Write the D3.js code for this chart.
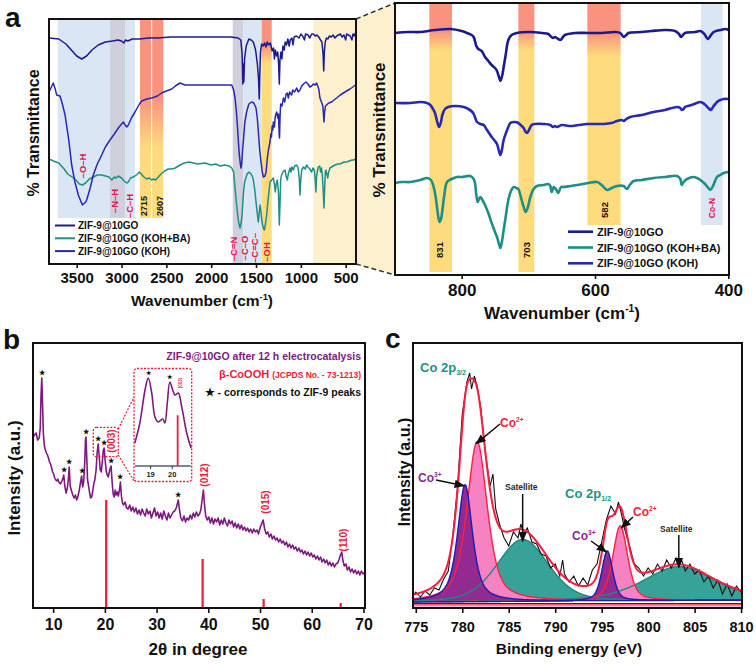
<!DOCTYPE html>
<html>
<head>
<meta charset="utf-8">
<script src="https://cdn.jsdelivr.net/npm/d3@7/dist/d3.min.js"></script>
<style>
html,body{margin:0;padding:0;background:#fff;}
svg{display:block;}
</style>
</head>
<body>
<script>
// ================= DATA =================
const irSeriesNames = ["ZIF-9@10GO", "ZIF-9@10GO (KOH+BA)", "ZIF-9@10GO (KOH)"];
const irWideTicks = [3500, 3000, 2500, 2000, 1500, 1000, 500];
const irZoomTicks = [800, 600, 400];
const xrdTicks = [10, 20, 30, 40, 50, 60, 70];
const xrdInsetTicks = [19, 20];
const xpsTicks = [775, 780, 785, 790, 795, 800, 805, 810];

// FTIR full range: [wavenumber, transmittance (offset a.u.)]
const irWideZIF = [[3809,226],[3700,225],[3620,220],[3560,214],[3500,208],[3444,205],[3390,208],[3330,214],[3260,219],[3180,222],[3100,223],[3040,224],[3000,223],[2975,221],[2955,224],[2930,223],[2880,225],[2800,225],[2700,226],[2600,226],[2450,227],[2300,227],[2100,227],[1900,227],[1780,227],[1700,226],[1670,224],[1655,210],[1648,180],[1642,200],[1636,182],[1628,205],[1610,218],[1580,225],[1555,224],[1530,222],[1505,214],[1485,200],[1472,185],[1464,165],[1458,190],[1450,212],[1438,220],[1420,218],[1405,221],[1390,217],[1375,222],[1360,219],[1340,221],[1320,213],[1305,216],[1295,205],[1285,214],[1270,208],[1258,212],[1248,200],[1240,180],[1233,204],[1222,212],[1212,205],[1200,218],[1185,214],[1175,222],[1160,219],[1145,225],[1130,218],[1118,224],[1100,226],[1088,219],[1075,227],[1050,228],[1020,226],[1000,230],[980,228],[960,224],[948,230],[920,229],[900,226],[880,230],[860,230],[840,228],[820,229],[800,227],[780,224],[765,222],[752,210],[745,193],[738,212],[728,222],[715,226],[700,225],[680,228],[660,227],[640,229],[620,226],[600,228],[580,229],[560,230],[540,227],[520,229],[500,224],[490,230],[470,229],[450,228],[430,224],[420,230],[405,228],[392,231],[385,229]];
const irWideKOH = [[3809,172],[3761,181],[3740,175],[3723,169],[3686,168],[3660,160],[3630,149],[3590,125],[3556,99],[3520,82],[3482,69],[3437,59],[3400,62],[3389,64],[3350,76],[3315,89],[3270,100],[3221,109],[3180,117],[3129,124],[3080,130],[3036,136],[3000,140],[2980,142],[2960,139],[2942,137],[2924,139],[2890,146],[2850,152],[2800,160],[2775,163],[2720,165],[2664,166],[2600,168],[2552,171],[2500,173],[2440,175],[2400,178],[2348,181],[2320,180],[2292,179],[2200,179],[2125,179],[2000,179],[1850,179],[1771,179],[1750,174],[1734,166],[1720,153],[1708,139],[1695,120],[1686,109],[1675,100],[1667,96],[1660,100],[1650,114],[1642,122],[1625,142],[1605,152],[1580,160],[1549,162],[1525,161],[1500,156],[1485,145],[1474,132],[1460,115],[1444,102],[1430,92],[1418,87],[1400,88],[1388,92],[1375,105],[1360,115],[1344,122],[1335,130],[1328,127],[1320,138],[1312,134],[1307,142],[1295,137],[1285,148],[1270,152],[1258,146],[1250,150],[1242,130],[1238,126],[1232,148],[1225,160],[1210,158],[1195,166],[1180,162],[1165,170],[1151,171],[1140,166],[1125,172],[1103,169],[1090,174],[1070,172],[1047,176],[1030,172],[1010,174],[990,178],[970,180],[943,182],[920,180],[900,177],[880,178],[860,180],[840,179],[824,181],[800,175],[787,166],[770,162],[755,158],[748,150],[742,142],[735,152],[725,158],[713,159],[690,161],[657,162],[630,164],[601,166],[560,169],[526,171],[490,173],[452,175],[420,177],[392,179]];
const irWideBA = [[3809,105],[3760,103],[3700,101],[3640,95],[3600,90],[3520,85],[3470,80],[3437,79],[3400,81],[3360,85],[3315,87],[3270,89],[3221,89],[3180,88],[3140,87],[3110,84],[3080,87],[3060,86],[3036,88],[3000,86],[2970,83],[2942,81],[2924,82],[2900,86],[2870,87],[2850,88],[2820,90],[2800,92],[2780,90],[2750,87],[2720,85],[2690,86],[2664,84],[2640,85],[2620,84],[2590,87],[2560,90],[2520,93],[2480,95],[2440,95],[2400,96],[2348,99],[2300,101],[2250,102],[2200,101],[2150,100],[2070,101],[2000,99],[1950,100],[1900,98],[1850,99],[1800,98],[1771,96],[1750,92],[1734,76],[1720,62],[1708,52],[1695,42],[1678,36],[1665,42],[1656,49],[1640,72],[1627,82],[1600,90],[1579,92],[1555,90],[1534,86],[1515,75],[1500,62],[1485,50],[1474,42],[1465,50],[1455,59],[1445,52],[1433,42],[1420,36],[1407,34],[1395,40],[1381,49],[1365,65],[1344,82],[1325,84],[1307,86],[1295,80],[1285,72],[1275,80],[1262,84],[1250,72],[1240,39],[1233,60],[1225,84],[1218,88],[1200,92],[1177,94],[1165,88],[1151,84],[1140,90],[1121,96],[1110,92],[1100,97],[1084,94],[1070,98],[1047,99],[1030,96],[1018,86],[1010,69],[1004,80],[991,94],[970,97],[950,95],[936,99],[920,97],[900,95],[880,92],[865,96],[850,94],[840,84],[832,72],[825,88],[806,97],[790,98],[780,92],[769,96],[760,88],[750,72],[742,56],[735,75],[727,92],[720,94],[710,90],[700,86],[690,92],[675,96],[657,97],[620,99],[590,100],[564,100],[540,101],[520,102],[489,102],[460,103],[430,104],[410,104],[392,105]];

// FTIR zoom 900-400
const irZoomZIF = [[900,242],[880,243],[862,243],[840,245],[817,246],[800,244],[792,242],[785,240],[782,238],[778,229],[775,226],[770,224],[765,218],[760,214],[755,210],[750,207],[747,204],[744,198],[742,194],[739,200],[737,208],[734,220],[730,235],[725,240],[717,242],[697,243],[680,242],[670,241],[667,239],[663,237],[660,238],[655,236],[652,235],[648,238],[645,240],[630,242],[610,242],[590,242],[570,243],[562,242],[557,238],[553,240],[550,242],[530,243],[515,244],[495,245],[480,244],[474,241],[471,238],[468,240],[465,242],[450,243],[442,244],[436,241],[431,236],[427,239],[422,243],[412,245],[404,246],[400,245]];
const irZoomKOH = [[900,172],[877,172],[862,173],[852,172],[847,170],[843,166],[840,162],[837,154],[834,148],[831,153],[829,160],[825,166],[820,168],[810,169],[797,168],[790,166],[784,163],[782,161],[779,156],[777,153],[772,151],[767,150],[762,145],[758,141],[755,138],[750,134],[747,131],[744,124],[742,120],[740,124],[737,135],[733,143],[730,148],[727,152],[720,153],[715,152],[710,149],[707,147],[704,143],[702,142],[699,145],[695,150],[690,151],[677,151],[667,150],[663,148],[660,149],[657,148],[650,150],[637,149],[625,150],[612,151],[600,151],[587,151],[575,152],[567,154],[560,155],[557,154],[553,156],[547,158],[530,160],[512,163],[495,165],[477,168],[472,167],[470,165],[467,166],[465,168],[455,170],[442,173],[436,171],[430,167],[426,165],[423,168],[417,173],[412,175],[407,176],[400,176]];
const irZoomBA = [[900,92],[890,93],[877,93],[862,95],[852,97],[846,95],[842,88],[839,78],[837,68],[835,58],[833,53],[831,56],[829,64],[826,80],[822,93],[815,96],[807,98],[800,98],[787,99],[782,96],[780,92],[778,80],[776,73],[774,76],[772,78],[768,74],[765,70],[760,62],[755,52],[750,43],[747,38],[744,31],[742,27],[740,32],[737,45],[734,58],[730,75],[726,84],[722,88],[718,87],[715,86],[712,80],[710,75],[707,68],[704,63],[701,67],[697,78],[692,86],[687,89],[677,90],[670,91],[667,89],[665,83],[662,88],[660,87],[657,84],[655,82],[651,88],[647,88],[637,89],[627,90],[610,92],[597,93],[590,90],[582,85],[575,87],[567,89],[557,89],[552,86],[548,90],[542,94],[530,95],[512,97],[495,98],[477,99],[472,96],[470,90],[467,93],[462,96],[452,98],[447,97],[440,94],[435,91],[430,87],[427,85],[423,89],[417,98],[412,100],[407,102],[400,103]];

// highlighted wavenumber ranges [from, to, kind, lower level]
const irWideBands = [[3712,2850,"blue",46],[3128,2960,"grey",46],[2794,2664,"gA",46],[2664,2534,"gA",46],[1760,1642,"grey",0],[1642,1437,"blue",0],[1437,1325,"gB",0],[862,385,"cream",0]];
const irZoomBands = [[848.5,814.5,"gC",3],[715,691,"gC",3],[611.5,561.5,"gD",50],[441,408.5,"blue",50]];
// assignment labels [text, wavenumber, level, colour kind]
const irWideLabels = [["–O–H",3430,98,"r"],["–N–H",3073,63,"r"],["–C–H",2906,58,"r"],["2715",2749,58,"k"],["2607",2571,58,"k"],["–C=N",1753,15,"r"],["–C–O",1631,16,"r"],["–C=C–",1511,16,"r"],["–OH",1381,12,"r"]];
const irZoomLabels = [["831",832.5,25,"k"],["703",702.5,25,"k"],["582",585,65,"k"],["Co-N",425,67,"r"]];

// XRD pattern [2θ, intensity]
const xrdPattern = [[6.1,171],[6.4,173],[6.7,175],[7.0,168],[7.3,170],[7.5,180],[7.65,212],[7.8,230],[7.92,210],[8.1,175],[8.3,162],[8.5,158],[8.7,155],[8.9,153],[9.1,150],[9.3,146],[9.5,144],[9.7,140],[9.9,136],[10.1,134],[10.3,130],[10.5,128],[10.7,127],[10.9,129],[11.1,126],[11.4,124],[11.7,127],[11.9,130],[12.05,133],[12.25,122],[12.5,115],[12.75,120],[12.95,130],[13.1,141],[13.3,122],[13.55,117],[13.8,113],[14.05,110],[14.3,113],[14.55,108],[14.8,112],[15.05,118],[15.3,126],[15.5,132],[15.7,121],[15.9,126],[16.1,145],[16.25,168],[16.35,171],[16.5,150],[16.65,128],[16.85,122],[17.05,115],[17.25,110],[17.45,111],[17.65,117],[17.85,124],[18.05,128],[18.3,138],[18.5,155],[18.7,164],[18.9,152],[19.1,138],[19.3,136],[19.5,146],[19.7,158],[19.85,160],[20.05,148],[20.25,137],[20.45,133],[20.65,131],[20.85,136],[21.05,140],[21.2,142],[21.4,126],[21.6,114],[21.8,111],[22.0,118],[22.2,113],[22.4,116],[22.6,112],[22.85,119],[23.0,126],[23.2,112],[23.4,105],[23.6,103],[23.9,106],[24.2,100],[24.5,99],[24.8,103],[25.1,97],[25.4,101],[25.7,96],[26.0,100],[26.3,94],[26.6,98],[26.9,93],[27.2,99],[27.5,95],[27.8,92],[28.1,99],[28.4,94],[28.7,97],[29.0,90],[29.3,95],[29.6,100],[29.9,92],[30.2,96],[30.5,90],[30.8,95],[31.1,89],[31.4,97],[31.7,92],[32.0,88],[32.3,95],[32.6,90],[32.9,93],[33.2,96],[33.5,97],[33.8,100],[34.0,104],[34.2,108],[34.4,99],[34.7,90],[35.0,87],[35.3,92],[35.6,86],[35.9,90],[36.2,88],[36.5,93],[36.8,89],[37.1,95],[37.4,91],[37.7,96],[38.0,92],[38.3,94],[38.55,98],[38.75,106],[38.9,112],[39.05,118],[39.25,104],[39.5,92],[39.8,88],[40.1,91],[40.4,85],[40.7,90],[41.0,84],[41.3,89],[41.6,86],[41.9,90],[42.2,83],[42.5,88],[42.8,84],[43.1,90],[43.4,85],[43.7,82],[44.0,88],[44.3,84],[44.6,87],[44.9,81],[45.2,85],[45.5,80],[45.8,84],[46.1,79],[46.4,83],[46.7,78],[47.0,81],[47.3,77],[47.6,80],[47.9,76],[48.2,79],[48.5,75],[48.8,79],[49.1,76],[49.4,78],[49.7,74],[50.0,80],[50.3,84],[50.6,88],[50.9,79],[51.2,74],[51.5,76],[51.8,71],[52.1,74],[52.4,69],[52.7,72],[53.0,68],[53.3,70],[53.6,66],[53.9,69],[54.2,65],[54.5,67],[54.8,63],[55.1,66],[55.4,61],[55.7,64],[56.0,60],[56.3,63],[56.6,59],[56.9,61],[57.2,57],[57.5,60],[57.8,56],[58.1,58],[58.4,54],[58.7,57],[59.0,53],[59.3,56],[59.6,52],[59.9,55],[60.2,51],[60.5,53],[60.8,49],[61.1,52],[61.4,48],[61.7,51],[62.0,46],[62.3,49],[62.6,45],[62.9,48],[63.2,43],[63.5,46],[63.8,42],[64.1,45],[64.4,41],[64.7,44],[65.0,45],[65.25,48],[65.5,52],[65.8,56],[66.05,47],[66.3,42],[66.6,44],[66.9,38],[67.2,41],[67.5,36],[67.8,39],[68.1,35],[68.4,38],[68.7,34],[69.0,37],[69.3,33],[69.6,37],[69.9,34],[70.3,36]];
// enlarged 18.2-20.9° region shown in the inset
const xrdInsetPattern = [[18.27,23],[18.5,43],[18.74,76],[18.89,88],[19.05,73],[19.2,49],[19.35,44],[19.56,47],[19.66,43],[19.77,63],[19.89,84],[20.02,76],[20.13,71],[20.28,73],[20.44,59],[20.67,33],[20.87,18]];
const xrdStarAngles = [7.8, 12.05, 13.1, 15.5, 16.35, 18.7, 19.85, 21.2, 23.0, 34.2];
const xrdInsetStarAngles = [18.89, 19.89];
// β-CoOOH reference (JCPDS 73-1213)
const refHkl = ["(003)", "(012)", "(015)", "(110)"];
const refAngle = [20.25, 38.9, 50.7, 65.6];
const refIntensity = [108, 49, 9, 5];
const refLabelAngle = [21.3, 39.35, 51.0, 66.1];
const refLabelLevel = [167, 133, 106, 68];

// XPS Co 2p raw spectrum [binding energy (eV), counts]
const xpsRaw = [[774.7,8],[775.0,12],[775.5,7],[776.0,13],[776.5,9],[777.0,16],[777.5,14],[778.0,25],[778.5,33],[779.0,70],[779.5,118],[780.0,190],[780.5,222],[780.8,231],[781.0,215],[781.3,228],[781.6,218],[782.0,196],[782.5,150],[783.0,118],[783.3,130],[783.6,95],[784.0,80],[784.5,66],[785.0,58],[785.5,72],[786.0,66],[786.3,80],[786.6,70],[787.0,76],[787.5,62],[788.0,60],[788.5,50],[789.0,48],[789.5,36],[790.0,40],[790.5,28],[790.8,44],[791.0,30],[791.5,22],[792.0,28],[792.5,18],[793.0,26],[793.5,19],[794.0,34],[794.5,40],[795.0,62],[795.5,84],[796.0,98],[796.5,90],[796.8,102],[797.0,95],[797.5,74],[798.0,58],[798.5,40],[799.0,36],[799.5,28],[800.0,36],[800.5,30],[801.0,40],[801.5,33],[802.0,44],[802.5,36],[803.0,46],[803.3,38],[803.6,44],[804.0,33],[804.5,40],[805.0,30],[805.5,34],[806.0,22],[806.5,28],[807.0,16],[807.5,24],[808.0,10],[808.5,20],[809.0,8],[809.5,18],[810.0,12]];
// fitted components
const xpsCompName = ["Co3+", "Co2+", "Satellite", "Co3+", "Co2+", "Satellite"];
const xpsCenter = [780.3, 781.6, 786.5, 795.6, 797.0, 803.3];
const xpsHeight = [117, 160, 62, 50, 75, 34];
const xpsFwhm = [1.9, 2.6, 6.5, 1.4, 1.9, 9.0];
const xpsLorentz = [0.7, 0.6, 0.3, 0.5, 0.5, 0.5];
const xpsBackground = [2, 3.8]; // at 774.7 and 810.1 eV

// ================= DRAWING =================
const FONT = "'Liberation Sans', Arial, Helvetica, sans-serif";
const COL = {red:"#f9937f", yel:"#fedb7c", blue:"#dbe6f4", grey:"#cfd0db", cream:"#fcf0cf",
  navy:"#1b1b8f", koh:"#2828b2", teal:"#1e8f85", purple:"#7d1a80", ref:"#f0193c", lab:"#e3144d"};
const irColors = [COL.navy, COL.teal, COL.koh];

const svg = d3.select("body").append("svg").attr("width",756).attr("height",664)
  .attr("font-family",FONT).attr("font-weight","bold");
svg.append("rect").attr("width",756).attr("height",664).attr("fill","#fff");
const defs = svg.append("defs");

function gradient(id,o1,o2){
  const g = defs.append("linearGradient").attr("id",id).attr("x1",0).attr("y1",0).attr("x2",0).attr("y2",1);
  [[0,COL.red],[o1,COL.red],[o2,COL.yel],[1,COL.yel]].forEach(s=>g.append("stop").attr("offset",s[0]).attr("stop-color",s[1]));
}
gradient("gA",0.40,0.65); gradient("gB",0.11,0.18); gradient("gC",0.10,0.175); gradient("gD",0.135,0.235);
function clip(id,x0,y0,x1,y1){ defs.append("clipPath").attr("id",id).append("rect").attr("x",x0).attr("y",y0).attr("width",x1-x0).attr("height",y1-y0); }
const mk = defs.append("marker").attr("id","arr").attr("viewBox","0 0 10 10").attr("refX",9).attr("refY",5)
  .attr("markerWidth",7).attr("markerHeight",7).attr("orient","auto");
mk.append("path").attr("d","M0,1 L10,5 L0,9 z").attr("fill","#111");

function bottomAxis(scale,ticks,y,size,pad,fs){
  const g = svg.append("g").attr("transform",`translate(0,${y})`)
    .call(d3.axisBottom(scale).tickValues(ticks).tickSize(size).tickPadding(pad).tickSizeOuter(0).tickFormat(d3.format("d")));
  g.select(".domain").remove();
  g.attr("font-family",FONT).attr("font-size",fs).attr("font-weight","bold");
  g.selectAll("text").attr("fill","#111");
  g.selectAll("line").attr("stroke","#111").attr("stroke-width",1.6);
  return g;
}
function frame(x0,y0,x1,y1){
  svg.append("rect").attr("x",x0).attr("y",y0).attr("width",x1-x0).attr("height",y1-y0)
    .attr("fill","none").attr("stroke","#111").attr("stroke-width",2);
}
function text(x,y,s,fs,fill,anchor){
  return svg.append("text").attr("x",x).attr("y",y).attr("font-size",fs).attr("fill",fill||"#111")
    .attr("text-anchor",anchor||"start").text(s);
}
function vtext(x,y,s,fs,fill){
  return svg.append("text").attr("transform",`translate(${x},${y}) rotate(-90)`).attr("font-size",fs)
    .attr("fill",fill||"#111").attr("text-anchor","middle").attr("dy","0.35em").text(s);
}
function titleWithSup(x,y,main,sup,tail,fs){
  const t = svg.append("text").attr("x",x).attr("y",y).attr("font-size",fs).attr("text-anchor","middle").attr("fill","#111");
  t.append("tspan").text(main);
  t.append("tspan").attr("dy",-fs*0.4).attr("font-size",fs*0.6).text(sup);
  t.append("tspan").attr("dy",fs*0.4).text(tail);
}

// ---------- panel a (left, full range) ----------
const aL = {x0:49, y0:19, x1:356, y1:264};
const xL = d3.scaleLinear().domain([3809,385]).range([aL.x0,aL.x1]);
const yL = d3.scaleLinear().domain([0,245]).range([aL.y1,aL.y0]);
// ---------- panel a (right, zoom) ----------
const aR = {x0:395, y0:3, x1:729, y1:275};
const xR = d3.scaleLinear().domain([900,399]).range([aR.x0,aR.x1]);
const yR = d3.scaleLinear().domain([0,272]).range([aR.y1,aR.y0]);

// connecting zoom region
svg.append("path").attr("d",`M${aL.x1},${aL.y0} L${aR.x0},${aR.y0} L${aR.x0},${aR.y1} L${aL.x1},${aL.y1} Z`).attr("fill",COL.cream);
svg.append("line").attr("x1",aL.x1).attr("y1",aL.y0).attr("x2",aR.x0).attr("y2",aR.y0).attr("stroke","#333").attr("stroke-width",1.5).attr("stroke-dasharray","5,3");
svg.append("line").attr("x1",aL.x1).attr("y1",aL.y1).attr("x2",aR.x0).attr("y2",aR.y1).attr("stroke","#333").attr("stroke-width",1.5).attr("stroke-dasharray","5,3");

function fillFor(kind){ return kind==="blue"?COL.blue:kind==="grey"?COL.grey:kind==="cream"?COL.cream:`url(#${kind})`; }

clip("clipAL",aL.x0,aL.y0,aL.x1,aL.y1);
const gAL = svg.append("g").attr("clip-path","url(#clipAL)");
gAL.selectAll("rect.band").data(irWideBands).join("rect")
  .attr("x",d=>xL(d[0])).attr("width",d=>xL(d[1])-xL(d[0]))
  .attr("y",aL.y0).attr("height",d=>yL(d[3])-aL.y0).attr("fill",d=>fillFor(d[2]));
gAL.append("line").attr("x1",xL(2664)).attr("x2",xL(2664)).attr("y1",aL.y0).attr("y2",yL(46)).attr("stroke","#fff").attr("stroke-width",1);
const lineL = d3.line().x(d=>xL(d[0])).y(d=>yL(d[1]));
[irWideZIF, irWideBA, irWideKOH].forEach((s,i)=>{
  gAL.append("path").attr("d",lineL(s)).attr("fill","none").attr("stroke",irColors[i]).attr("stroke-width",1.5).attr("stroke-linejoin","round");
});
irWideLabels.forEach(l=>vtext(xL(l[1]),yL(l[2]),l[0],l[3]==="r"?9.5:9,l[3]==="r"?COL.lab:"#111"));
frame(aL.x0,aL.y0,aL.x1,aL.y1);
bottomAxis(xL,irWideTicks,aL.y1,4,4,15);
irSeriesNames.forEach((n,i)=>{
  const y = 225.5 + i*12.8;
  svg.append("line").attr("x1",55).attr("x2",75).attr("y1",y).attr("y2",y).attr("stroke",irColors[i]).attr("stroke-width",2);
  text(78,y+3.5,n,10,"#111");
});
vtext(33,133,"% Transmittance",16);
titleWithSup(202,306,"Wavenumber (cm","-1",")",15.5);

clip("clipAR",aR.x0,aR.y0,aR.x1,aR.y1);
const gAR = svg.append("g").attr("clip-path","url(#clipAR)");
gAR.selectAll("rect.band").data(irZoomBands).join("rect")
  .attr("x",d=>xR(d[0])).attr("width",d=>xR(d[1])-xR(d[0]))
  .attr("y",aR.y0+1).attr("height",d=>yR(d[3])-aR.y0-1).attr("fill",d=>fillFor(d[2]));
const lineR = d3.line().x(d=>xR(d[0])).y(d=>yR(d[1])).curve(d3.curveCatmullRom.alpha(0.5));
[irZoomZIF, irZoomBA, irZoomKOH].forEach((s,i)=>{
  gAR.append("path").attr("d",lineR(s)).attr("fill","none").attr("stroke",irColors[i]).attr("stroke-width",2.6).attr("stroke-linejoin","round");
});
irZoomLabels.forEach(l=>vtext(xR(l[1]),yR(l[2]),l[0],l[3]==="r"?8.5:9.5,l[3]==="r"?COL.lab:"#111"));
frame(aR.x0,aR.y0,aR.x1,aR.y1);
bottomAxis(xR,irZoomTicks,aR.y1,4,5,17);
irSeriesNames.forEach((n,i)=>{
  const y = 231.7 + i*15.8;
  svg.append("line").attr("x1",568).attr("x2",593).attr("y1",y).attr("y2",y).attr("stroke",irColors[i]).attr("stroke-width",2.6);
  text(597,y+4,n,11,"#111");
});
vtext(379,130,"% Transmittance",17);
titleWithSup(562,319,"Wavenumber (cm","-1",")",17);
text(5,27,"a",28,"#111");

// ---------- panel b (XRD) ----------
const pB = {x0:33, y0:343, x1:365, y1:608};
const xB = d3.scaleLinear().domain([6.1,70.3]).range([pB.x0,pB.x1]);
const yB = d3.scaleLinear().domain([0,265]).range([pB.y1,pB.y0]);
clip("clipB",pB.x0,pB.y0,pB.x1,pB.y1);
const gB = svg.append("g").attr("clip-path","url(#clipB)");
gB.selectAll("line.ref").data(refAngle).join("line")
  .attr("x1",d=>xB(d)).attr("x2",d=>xB(d)).attr("y1",yB(0)).attr("y2",(d,i)=>yB(refIntensity[i]))
  .attr("stroke",COL.ref).attr("stroke-width",2.2);
gB.append("path").attr("d",d3.line().x(d=>xB(d[0])).y(d=>yB(d[1]))(xrdPattern))
  .attr("fill","none").attr("stroke",COL.purple).attr("stroke-width",1.6).attr("stroke-linejoin","round");
function peakAt(pat,a){ let best=null; pat.forEach(p=>{ if(Math.abs(p[0]-a)<=0.16 && (!best||p[1]>best[1])) best=p; }); return best; }
xrdStarAngles.forEach(a=>{
  const p = peakAt(xrdPattern,a);
  svg.append("text").attr("x",xB(p[0])).attr("y",yB(p[1])-5.5).attr("dy","0.35em").attr("text-anchor","middle").attr("font-size",7).attr("fill","#111").text("★");
});
refHkl.forEach((h,i)=>vtext(xB(refLabelAngle[i]),yB(refLabelLevel[i]),h,10,COL.ref));
svg.append("rect").attr("x",93.3).attr("y",427.3).attr("width",25).attr("height",29.4).attr("rx",3)
  .attr("fill","none").attr("stroke",COL.ref).attr("stroke-width",1.3).attr("stroke-dasharray","2,1.5");
svg.append("line").attr("x1",118.3).attr("y1",429).attr("x2",134).attr("y2",397).attr("stroke",COL.ref).attr("stroke-width",1.2).attr("stroke-dasharray","2,1.5");
svg.append("line").attr("x1",118.3).attr("y1",455).attr("x2",134).attr("y2",481).attr("stroke",COL.ref).attr("stroke-width",1.2).attr("stroke-dasharray","2,1.5");
const inset = {x0:134, y0:368.5, x1:191.7, y1:481.5};
svg.append("rect").attr("x",inset.x0).attr("y",inset.y0).attr("width",inset.x1-inset.x0).attr("height",inset.y1-inset.y0).attr("rx",3)
  .attr("fill","#fff").attr("stroke",COL.ref).attr("stroke-width",1.3).attr("stroke-dasharray","2,1.5");
const xI = d3.scaleLinear().domain([18.23,20.9]).range([inset.x0,inset.x1]);
const yI = d3.scaleLinear().domain([0,97]).range([466,369]);
svg.append("line").attr("x1",xI(refAngle[0])).attr("x2",xI(refAngle[0])).attr("y1",yI(0)).attr("y2",yI(refIntensity[0]*0.47)).attr("stroke",COL.ref).attr("stroke-width",1.8);
svg.append("path").attr("d",d3.line().x(d=>xI(d[0])).y(d=>yI(d[1])).curve(d3.curveCatmullRom.alpha(0.5))(xrdInsetPattern))
  .attr("fill","none").attr("stroke",COL.purple).attr("stroke-width",1.6);
svg.append("line").attr("x1",inset.x0+1).attr("x2",inset.x1-1).attr("y1",466).attr("y2",466).attr("stroke","#4d5f78").attr("stroke-width",1.5);
xrdInsetTicks.forEach(t=>{
  svg.append("line").attr("x1",xI(t)).attr("x2",xI(t)).attr("y1",466).attr("y2",469).attr("stroke","#333").attr("stroke-width",1);
  text(xI(t),476.5,String(t),7.5,"#222","middle");
});
xrdInsetStarAngles.forEach(a=>{
  const p = peakAt(xrdInsetPattern,a);
  svg.append("text").attr("x",xI(p[0])).attr("y",yI(p[1])-5).attr("dy","0.35em").attr("text-anchor","middle").attr("font-size",6).attr("fill","#111").text("★");
});
vtext(xI(refAngle[0])+3,383,refHkl[0],4.5,COL.ref);
frame(pB.x0,pB.y0,pB.x1,pB.y1);
bottomAxis(xB,xrdTicks,pB.y1,5,6,16);
text(361,360,"ZIF-9@10GO after 12 h electrocatalysis",10.5,COL.purple,"end");
const t2 = svg.append("text").attr("x",361).attr("y",378).attr("text-anchor","end").attr("fill",COL.ref);
t2.append("tspan").attr("font-size",11).text("β-CoOOH ");
t2.append("tspan").attr("font-size",8.5).text("(JCPDS No. - 73-1213)");
text(361,396,"★ - corresponds to ZIF-9 peaks",10.5,"#111","end");
vtext(14,478,"Intensity (a.u.)",17);
text(198,655,"2θ in degree",17,"#111","middle");
text(3,349,"b",28,"#111");

// ---------- panel c (XPS) ----------
const pC = {x0:413, y0:343, x1:742, y1:608};
const xC = d3.scaleLinear().domain([774.7,810.1]).range([pC.x0,pC.x1]);
const yC = d3.scaleLinear().domain([-4,261]).range([pC.y1,pC.y0]);
const bgScale = d3.scaleLinear().domain([774.7,810.1]).range(xpsBackground);
function pv(x,i){ const d=(x-xpsCenter[i])/xpsFwhm[i]; const L=1/(1+4*d*d); const G=Math.exp(-4*Math.LN2*d*d); return xpsHeight[i]*(xpsLorentz[i]*L+(1-xpsLorentz[i])*G); }
const beGrid = d3.range(774.7, 810.1001, 0.05);
clip("clipC",pC.x0,pC.y0,pC.x1,pC.y1);
const gC = svg.append("g").attr("clip-path","url(#clipC)");
const compStyle = {"Co3+":{fill:"#932a92",stroke:"#1c1cb0"},"Co2+":{fill:"#f782c2",stroke:"#ff2040"},"Satellite":{fill:"#37a398",stroke:"#1a8a7e"}};
const drawOrder = [2,5,1,4,0,3];
drawOrder.forEach(i=>{
  const st = compStyle[xpsCompName[i]];
  gC.append("path").attr("d",d3.area().x(d=>xC(d)).y0(d=>yC(bgScale(d))).y1(d=>yC(bgScale(d)+pv(d,i)))(beGrid))
    .attr("fill",st.fill).attr("stroke","none");
});
drawOrder.forEach(i=>{
  const st = compStyle[xpsCompName[i]];
  gC.append("path").attr("d",d3.line().x(d=>xC(d)).y(d=>yC(bgScale(d)+pv(d,i)))(beGrid))
    .attr("fill","none").attr("stroke",st.stroke).attr("stroke-width",1.4);
});
[[0.5,"#1c1cb0"],[-0.8,"#ff2040"],[-2,"#f782c2"]].forEach(b=>{
  gC.append("line").attr("x1",pC.x0).attr("x2",pC.x1).attr("y1",yC(b[0])).attr("y2",yC(b[0])).attr("stroke",b[1]).attr("stroke-width",1.2);
});
gC.append("path").attr("d",d3.line().x(d=>xC(d[0])).y(d=>yC(d[1])).curve(d3.curveLinear)(xpsRaw))
  .attr("fill","none").attr("stroke","#111").attr("stroke-width",1.1);
gC.append("path").attr("d",d3.line().x(d=>xC(d)).y(d=>yC(bgScale(d)+d3.sum(xpsCenter,(c,i)=>pv(d,i))))(beGrid))
  .attr("fill","none").attr("stroke","#ff1a40").attr("stroke-width",2);
frame(pC.x0,pC.y0,pC.x1,pC.y1);
bottomAxis(xC,xpsTicks,pC.y1,5,9,14.5);
vtext(404,472,"Intensity (a.u.)",16);
text(569,654,"Binding energy (eV)",15.5,"#111","middle");
text(385,348,"c",28,"#111");

function supLabel(x,y,main,sup,fs,fill,sub){
  const t = svg.append("text").attr("x",x).attr("y",y).attr("font-size",fs).attr("fill",fill);
  t.append("tspan").text(main);
  if(sub) t.append("tspan").attr("dy",3).attr("font-size",fs*0.55).text(sup);
  else t.append("tspan").attr("dy",-fs*0.45).attr("font-size",fs*0.55).text(sup);
}
function arrow(x1,y1,x2,y2){ svg.append("line").attr("x1",x1).attr("y1",y1).attr("x2",x2).attr("y2",y2).attr("stroke","#111").attr("stroke-width",1.5).attr("marker-end","url(#arr)"); }
supLabel(420,372,"Co 2p","3/2",13,"#1a9484",true);
supLabel(565,498,"Co 2p","1/2",13,"#1a9484",true);
supLabel(500,427,"Co","2+",12,"#ff1a40");
supLabel(633,516,"Co","2+",12,"#ff1a40");
supLabel(418,482,"Co","3+",12,"#8e2a8e");
supLabel(572,540,"Co","3+",12,"#8e2a8e");
text(505,490,"Satellite",8.5,"#2a2a2a");
text(660,532,"Satellite",8.5,"#2a2a2a");
arrow(500,424,xC(xpsCenter[1])-1,yC(bgScale(xpsCenter[1])+xpsHeight[1])+2);
arrow(436,480,xC(xpsCenter[0])-1,yC(bgScale(xpsCenter[0])+xpsHeight[0])+1);
arrow(xC(xpsCenter[2]),494,xC(xpsCenter[2]),yC(bgScale(xpsCenter[2])+xpsHeight[2])+2);
arrow(591,541,xC(xpsCenter[3])-1,yC(bgScale(xpsCenter[3])+xpsHeight[3])+1);
arrow(633,517,xC(xpsCenter[4])+1,yC(bgScale(xpsCenter[4])+xpsHeight[4])+2);
arrow(xC(xpsCenter[5]),535,xC(xpsCenter[5]),yC(bgScale(xpsCenter[5])+xpsHeight[5])+1);
</script>
</body>
</html>
